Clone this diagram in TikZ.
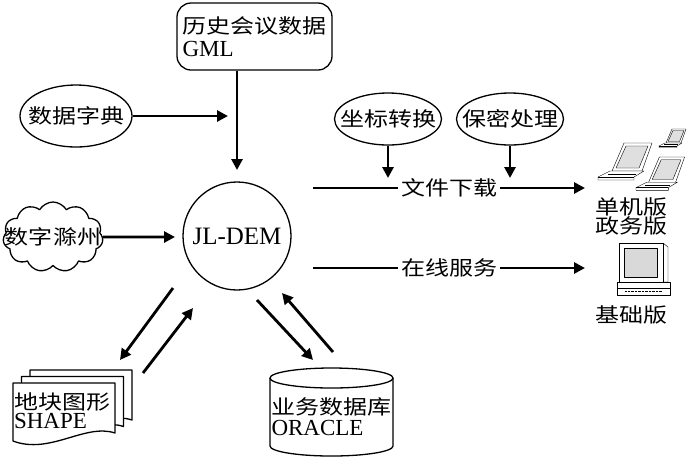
\documentclass[tikz,border=0pt]{standalone}
\usepackage{fontspec}
\setmainfont{Liberation Serif}
\newfontfamily\cjkfont[FakeStretch=1.2]{Noto Sans CJK SC}
\newcommand\zhtxt[1]{{\cjkfont\fontsize{20}{22}\selectfont #1}}
\newcommand\flatbox[1]{\makebox[0pt]{#1}}
\usetikzlibrary{arrows.meta,shapes.geometric,shapes.symbols}
\tikzset{
  laptop/.pic={
    \draw[fill=white] (14,28)--(26,0)--(54,0)--(44,28)--cycle;
    \draw[fill=gray!25] (18,25)--(28,3)--(50,3)--(41,25)--cycle;
    \draw[fill=white] (0,34)--(12,28)--(46,28)--(36,34)--(36,37)--(0,37)--cycle;
    \draw (0,34)--(36,34) (10,31)--(38,31);
  },
  desktop/.pic={
    \draw[fill=white] (46,0)--(51,4)--(51,39)--(46,39);
    \draw[fill=white] (2,0) rectangle (46,39);
    \draw[fill=gray!30] (7,5) rectangle (40,34);
    \draw[fill=white] (0,39) rectangle (53,52);
    \draw (0,45)--(53,45);
    \draw[densely dotted] (8,48)--(45,48);
  }
}
\begin{document}
\begin{tikzpicture}[x=1pt,y=-1pt,line join=round,
  shp/.style={draw,line width=1.3pt,fill=white,inner sep=0pt},
  conn/.style={line width=2.8pt,-{Triangle[length=11pt,width=11pt]}},
  every node/.style={font=\fontsize{23}{23}\selectfont}]
\useasboundingbox (0,0) rectangle (700,459);
\node[shp,rounded corners=14pt,minimum width=155,minimum height=67,align=left] (hist) at (254.5,36.5) {\zhtxt{历史会议数据}\\GML};
\node[shp,ellipse,minimum width=112,minimum height=62] (dict) at (76,116) {\flatbox{\zhtxt{数据字典}}};
\node[shp,circle,minimum size=108] (dem) at (237,236) {\flatbox{\fontsize{25}{25}\selectfont JL-DEM}};
\node[shp,cloud,cloud puffs=11,cloud puff arc=120,minimum width=100,minimum height=70] (cloud) at (53,237) {};
\node (cloudtxt) at (cloud) {\zhtxt{数字滁州}};
\node[shp,ellipse,minimum width=107,minimum height=52] (coord) at (388,119) {\flatbox{\zhtxt{坐标转换}}};
\node[shp,ellipse,minimum width=107,minimum height=52] (secret) at (510,119) {\flatbox{\zhtxt{保密处理}}};
\pic at (598,143) {laptop};
\pic[scale=0.5] at (659,129) {laptop};
\pic[scale=0.9] at (636,157) {laptop};
\node[align=center,font=\fontsize{23}{19}\selectfont] (single) at (631,216) {\zhtxt{单机版}\\\zhtxt{政务版}};
\pic at (617,243) {desktop};
\node (base) at (631,315) {\zhtxt{基础版}};
\foreach \d in {2,1,0}
  \draw[shp,shift={(8.5*\d,-6.5*\d)}] (13,383) -- (115,383) -- (115,433) .. controls (85,423) and (50,455) .. (13,441) -- cycle;
\node[align=left,font=\fontsize{23}{19}\selectfont] (shape) at (62,411) {\zhtxt{地块图形}\\SHAPE};
\draw[shp] (270,378) -- (270,446) arc[start angle=180,end angle=0,x radius=61.5,y radius=10] -- (393,378);
\draw[shp] (331.5,378) ellipse[x radius=61.5,y radius=10];
\node[align=left,font=\fontsize{23}{21}\selectfont] (db) at (331.5,417) {\zhtxt{业务数据库}\\ORACLE};
\coordinate (demtop) at (237,170);
\coordinate (dictend) at (228,116);
\coordinate (cloudend) at (175,237);
\coordinate (dlstart) at (313,188);
\coordinate (dlend) at (585,188);
\coordinate (dlup) at (0,178);
\coordinate (olstart) at (313,268);
\coordinate (olend) at (585,268);
\coordinate (shpin) at (120,360);
\coordinate (shpout) at (173,288);
\coordinate (shpfrom) at (143,373);
\coordinate (shpto) at (193,308);
\coordinate (dbout) at (257,300);
\coordinate (dbin) at (313,360);
\coordinate (dbfrom) at (333,352);
\coordinate (dbto) at (282,293);
\draw[conn] (hist.south -| dem) -- (demtop);
\draw[conn] (dict.east) -- (dictend);
\draw[conn] (cloud.east) -- (cloudend);
\draw[conn] (coord.south) -- (coord |- dlup);
\draw[conn] (secret.south) -- (secret |- dlup);
\draw[conn] (dlstart) -- node[fill=white,inner sep=3pt]{\zhtxt{文件下载}} (dlend);
\draw[conn] (olstart) -- node[fill=white,inner sep=3pt]{\zhtxt{在线服务}} (olend);
\draw[conn] (shpout) -- (shpin);
\draw[conn] (shpfrom) -- (shpto);
\draw[conn] (dbout) -- (dbin);
\draw[conn] (dbfrom) -- (dbto);
\end{tikzpicture}
\end{document}
